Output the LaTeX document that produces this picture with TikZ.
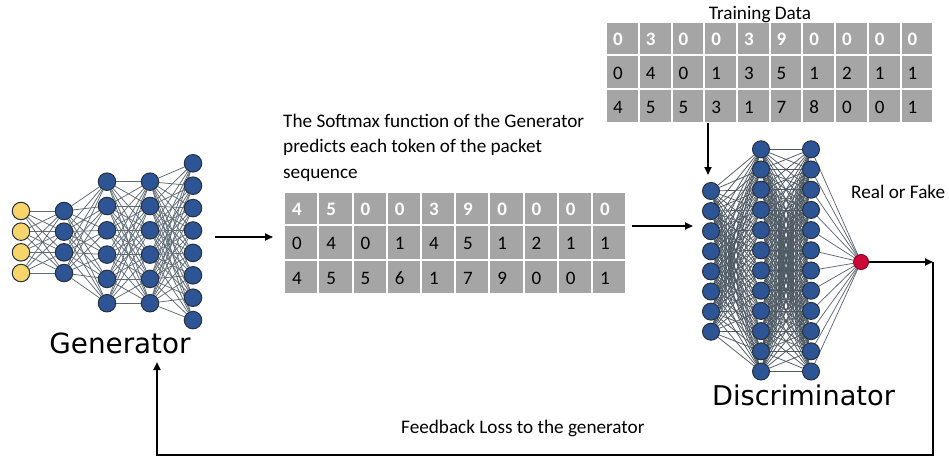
\documentclass[tikz,border=0pt]{standalone}
\usepackage{fontspec}
\setmainfont{Carlito}
\newfontfamily\bigfont{DejaVu Sans}
\usetikzlibrary{arrows.meta,backgrounds}
\definecolor{nblue}{HTML}{2D5596}
\definecolor{nedge}{HTML}{27313C}
\definecolor{nyel}{HTML}{F7D56A}
\definecolor{nred}{HTML}{CC0836}
\definecolor{wirec}{HTML}{5E6A75}
\definecolor{dwirec}{HTML}{4E5963}
\definecolor{cellgray}{HTML}{A6A5A5}
\begin{document}
\begin{tikzpicture}[x=1pt,y=-1pt,
  neuron/.style={circle, fill=nblue, draw=nedge, line width=1pt, minimum size=17.5pt, inner sep=0pt},
  yneuron/.style={neuron, fill=nyel},
  dneuron/.style={neuron, minimum size=17pt},
  rneuron/.style={neuron, fill=nred, draw=nred!70!black, minimum size=15pt},
  wire/.style={draw=wirec, line width=0.75pt},
  dwire/.style={draw=dwirec, line width=0.75pt},
  flow/.style={line width=1.8pt, -{Triangle[length=8pt,width=7pt]}},
  loopline/.style={line width=2.2pt, -{Triangle[length=8pt,width=7pt]}},
  txt/.style={font=\fontsize{19.2}{23}\selectfont, inner sep=0pt},
  biglabel/.style={font=\bigfont\fontsize{27}{32}\selectfont, inner sep=0pt},
  gcell/.style={anchor=north west, fill=cellgray, minimum width=32.2pt, text width=18.2pt, inner xsep=7pt, inner ysep=0pt, text height=14.5pt, text depth=0pt, align=left, font=\fontsize{19}{23}\selectfont},
  tcell/.style={anchor=north west, fill=cellgray, minimum width=30.7pt, text width=18.7pt, inner xsep=6pt, inner ysep=0pt, text height=14.5pt, text depth=0pt, align=left, font=\fontsize{19}{23}\selectfont},
  hdr/.style={text=white, font=\fontsize{19}{23}\selectfont\bfseries}
]
\useasboundingbox (0,0) rectangle (949,458);

% ---------- Generator network ----------
\foreach \i in {0,...,3} \node[yneuron] (a\i) at (21,{211+20.67*\i}) {};
\foreach \i in {0,...,3} \node[neuron] (b\i) at (64,{211+20.67*\i}) {};
\foreach \i in {0,...,5} \node[neuron] (c\i) at (107,{181.7+24.3*\i}) {};
\foreach \i in {0,...,5} \node[neuron] (d\i) at (150,{181.7+24.3*\i}) {};
\foreach \i in {0,...,7} \node[neuron] (e\i) at (193,{163.3+22.4*\i}) {};

% ---------- Discriminator network ----------
\foreach \i in {0,...,7} \node[dneuron] (p\i) at (711,{191+20.1*\i}) {};
\foreach \i in {0,...,11} \node[dneuron] (q\i) at (761,{149.3+20.2*\i}) {};
\foreach \i in {0,...,11} \node[dneuron] (r\i) at (811,{149.3+20.2*\i}) {};
\node[rneuron] (out) at (861,262) {};

\begin{pgfonlayer}{background}
  \fill[white] (0,0) rectangle (949,458);
  \foreach \i in {0,...,3} \foreach \j in {0,...,3} \draw[wire] (a\i) -- (b\j);
  \foreach \i in {0,...,3} \foreach \j in {0,...,5} \draw[wire] (b\i) -- (c\j);
  \foreach \i in {0,...,5} \foreach \j in {0,...,5} \draw[wire] (c\i) -- (d\j);
  \foreach \i in {0,...,5} \foreach \j in {0,...,7} \draw[wire] (d\i) -- (e\j);
  \foreach \i in {0,...,7} \foreach \j in {0,...,11} \draw[dwire] (p\i) -- (q\j);
  \foreach \i in {0,...,11} \foreach \j in {0,...,11} \draw[dwire] (q\i) -- (r\j);
  \foreach \i in {0,...,11} \draw[wire] (r\i) -- (out);
\end{pgfonlayer}

% ---------- Generated table ----------
\foreach \v [count=\c] in {4,5,0,0,3,9,0,0,0,0}
  \node[gcell,hdr,minimum height=31pt] (g1-\c) at ({285+34.2*(\c-1)},193) {\v};
\foreach \v [count=\c] in {0,4,0,1,4,5,1,2,1,1}
  \node[gcell,minimum height=33pt] (g2-\c) at ({285+34.2*(\c-1)},226) {\v};
\foreach \v [count=\c] in {4,5,5,6,1,7,9,0,0,1}
  \node[gcell,minimum height=32pt] (g3-\c) at ({285+34.2*(\c-1)},261) {\v};

% ---------- Training table ----------
\foreach \v [count=\c] in {0,3,0,0,3,9,0,0,0,0}
  \node[tcell,hdr,minimum height=31pt] (t1-\c) at ({607+32.7*(\c-1)},23) {\v};
\foreach \v [count=\c] in {0,4,0,1,3,5,1,2,1,1}
  \node[tcell,minimum height=32pt] (t2-\c) at ({607+32.7*(\c-1)},56) {\v};
\foreach \v [count=\c] in {4,5,5,3,1,7,8,0,0,1}
  \node[tcell,minimum height=32pt] (t3-\c) at ({607+32.7*(\c-1)},90) {\v};

% ---------- Texts ----------
\node[txt,anchor=base] (tdtitle) at (760,19) {Training Data};
\node[txt,anchor=base west] (sm1) at (283,127) {The Softmax function of the Generator};
\node[txt,anchor=base west] (sm2) at (283,152.5) {predicts each token of the packet};
\node[txt,anchor=base west] (sm3) at (283,178) {sequence};
\node[txt,anchor=base west] (rof) at (851,198) {Real or Fake};
\node[txt,anchor=base west] (fb) at (401,433) {Feedback Loss to the generator};
\node[biglabel,font=\bigfont\fontsize{27.8}{32}\selectfont,anchor=base] (genlbl) at (120,353) {Generator};
\node[biglabel,font=\bigfont\fontsize{27.2}{32}\selectfont,anchor=base] (dislbl) at (803.5,405) {Discriminator};

% ---------- Connectors ----------
\coordinate (gs) at (215,237);
\coordinate (ge) at (273,237);
\coordinate (ts) at (632,226);
\coordinate (te) at (693,226);
\coordinate (ds) at (708,123);
\coordinate (de) at (708,175);
\coordinate (c1) at (933,262);
\coordinate (c2) at (933,455);
\coordinate (c3) at (157,455);
\coordinate (c4) at (157,362);
\draw[flow] (gs) -- (ge);
\draw[flow] (ts) -- (te);
\draw[flow] (ds) -- (de);
\draw[flow] (out) -- (c1);
\draw[loopline] (c1) -- (c2) -- (c3) -- (c4);
\end{tikzpicture}
\end{document}
